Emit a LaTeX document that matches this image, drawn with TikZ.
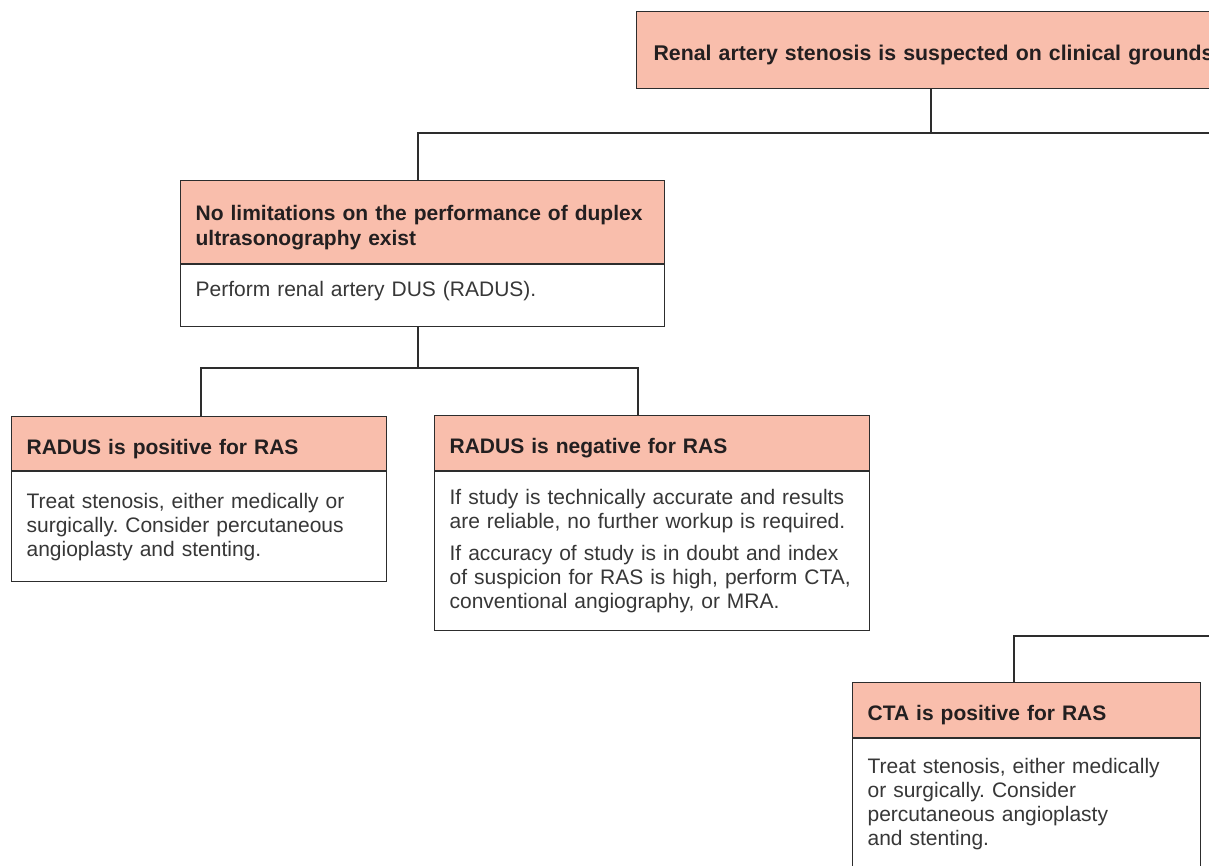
\documentclass[tikz,border=0pt]{standalone}
\usepackage{fontspec}
\setmainfont{Liberation Sans}
\frenchspacing
\definecolor{salmon}{RGB}{249,190,172}
\definecolor{edge}{RGB}{45,45,45}
\definecolor{headtext}{RGB}{35,31,32}
\definecolor{bodytext}{RGB}{55,55,55}
\begin{document}
\begin{tikzpicture}[x=1pt,y=-1pt,
  box/.style={draw=edge, line width=1.2pt, rectangle, anchor=north west,
    align=left, inner xsep=15pt, inner ysep=0pt,
    font=\fontsize{21}{24}\selectfont},
  hdr/.style={box, fill=salmon, text=headtext,
    font=\fontsize{21}{25}\selectfont\bfseries,
    execute at begin node={\rule{0pt}{26pt}}},
  body/.style={box, fill=white, text=bodytext},
  wire/.style={draw=edge, line width=1.2pt}]
\useasboundingbox (0,0) rectangle (1209,865);
\clip (0,0) rectangle (1209,865);

% top decision
\node[hdr, inner xsep=17pt, text width=600pt, minimum height=77pt,
  font=\fontsize{21.3}{25}\selectfont\bfseries] (top) at (636,11)
  {Renal artery stenosis is suspected on clinical grounds};

% duplex ultrasonography branch
\node[hdr, text width=454pt, minimum height=83pt] (h2) at (180,180)
  {No limitations on the performance of duplex\\ultrasonography exist};
\node[body, text width=454pt, minimum height=62pt,
  execute at end node={\rule[-14pt]{0pt}{0pt}}] (b2) at (h2.south west)
  {Perform renal artery DUS (RADUS).};

% RADUS positive
\node[hdr, text width=345pt, minimum height=54pt] (h3) at (11,416)
  {RADUS is positive for RAS};
\node[body, text width=345pt, minimum height=110pt] (b3) at (h3.south west)
  {Treat stenosis, either medically or\\surgically. Consider percutaneous\\angioplasty and stenting.};

% RADUS negative
\node[hdr, text width=405pt, minimum height=55pt] (h4) at (434,415)
  {RADUS is negative for RAS};
\node[body, text width=405pt, minimum height=159pt] (b4) at (h4.south west)
  {If study is technically accurate and results\\are reliable, no further workup is required.\\[8pt]If accuracy of study is in doubt and index\\of suspicion for RAS is high, perform CTA,\\conventional angiography, or MRA.};

% CTA positive
\node[hdr, text width=318pt, minimum height=55pt] (h5) at (852,682)
  {CTA is positive for RAS};
\node[body, text width=318pt, minimum height=130pt] (b5) at (h5.south west)
  {Treat stenosis, either medically\\or surgically. Consider\\percutaneous angioplasty\\and stenting.};

% junction points of the connectors
\coordinate (j1) at (931,133);
\coordinate (j2) at (418,133);
\coordinate (e1) at (1215,133);
\coordinate (j3) at (418,368);
\coordinate (j4) at (201,368);
\coordinate (j5) at (638,368);
\coordinate (j6) at (1014,636);
\coordinate (e2) at (1215,636);

% connectors
\draw[wire] (top.south -| j1) -- (j1);
\draw[wire] (h2.north -| j2) -- (j2) -- (e1);
\draw[wire] (b2.south -| j3) -- (j3);
\draw[wire] (h3.north -| j4) -- (j4) -- (j5) -- (h4.north -| j5);
\draw[wire] (h5.north -| j6) -- (j6) -- (e2);
\end{tikzpicture}
\end{document}
